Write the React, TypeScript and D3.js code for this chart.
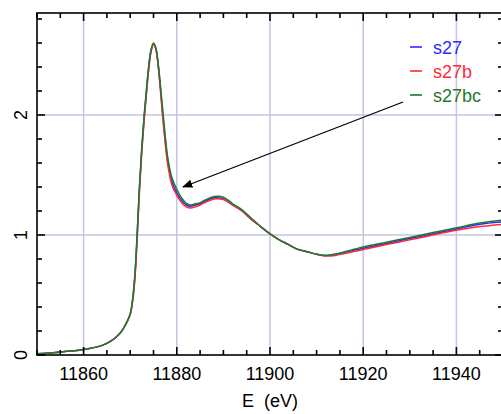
import React from "react";
import * as d3 from "d3";

const energy = [11850, 11852, 11854, 11856, 11858, 11860, 11862, 11864, 11866, 11867, 11868, 11869, 11870, 11870.5, 11871, 11871.5, 11872, 11872.5, 11873, 11873.5, 11874, 11874.5, 11875, 11875.5, 11876, 11876.5, 11877, 11877.5, 11878, 11878.5, 11879, 11880, 11881, 11882, 11883, 11884, 11885, 11886, 11888, 11890, 11892, 11894, 11896, 11898, 11900, 11902, 11904, 11906, 11908, 11910, 11912, 11914, 11916, 11920, 11925, 11930, 11935, 11940, 11945, 11950];

const s27 = [0.01, 0.015, 0.02, 0.03, 0.035, 0.045, 0.06, 0.08, 0.12, 0.15, 0.19, 0.25, 0.34, 0.45, 0.65, 1.0, 1.4, 1.72, 1.98, 2.2, 2.4, 2.54, 2.59, 2.55, 2.42, 2.22, 2.0, 1.8, 1.63, 1.52, 1.44, 1.35, 1.29, 1.25, 1.24, 1.25, 1.26, 1.28, 1.31, 1.3, 1.25, 1.2, 1.13, 1.07, 1.01, 0.96, 0.92, 0.88, 0.86, 0.84, 0.83, 0.84, 0.855, 0.89, 0.93, 0.97, 1.01, 1.05, 1.09, 1.11];
const s27b = [0.01, 0.015, 0.02, 0.03, 0.035, 0.045, 0.06, 0.08, 0.12, 0.15, 0.19, 0.25, 0.335, 0.44, 0.63, 0.97, 1.37, 1.7, 1.96, 2.18, 2.39, 2.53, 2.59, 2.55, 2.41, 2.2, 1.97, 1.77, 1.6, 1.49, 1.41, 1.33, 1.27, 1.235, 1.225, 1.235, 1.25, 1.27, 1.3, 1.295, 1.25, 1.2, 1.13, 1.07, 1.01, 0.96, 0.92, 0.88, 0.86, 0.84, 0.825, 0.83, 0.845, 0.88, 0.92, 0.96, 1.0, 1.04, 1.07, 1.09];
const s27bc = [0.01, 0.015, 0.02, 0.03, 0.035, 0.045, 0.06, 0.08, 0.12, 0.15, 0.19, 0.255, 0.345, 0.46, 0.67, 1.02, 1.42, 1.74, 2.0, 2.22, 2.42, 2.55, 2.6, 2.56, 2.43, 2.24, 2.03, 1.83, 1.66, 1.55, 1.47, 1.38, 1.31, 1.265, 1.25, 1.26, 1.27, 1.29, 1.32, 1.315, 1.26, 1.21, 1.14, 1.07, 1.01, 0.96, 0.92, 0.88, 0.86, 0.84, 0.83, 0.84, 0.86, 0.9, 0.94, 0.98, 1.02, 1.06, 1.1, 1.125];

const seriesNames = ["s27", "s27b", "s27bc"];
const seriesColors = ["#2a2aff", "#ff2a3a", "#1f7a2a"];
const xTicks = [11860, 11880, 11900, 11920, 11940];
const yTicks = [0, 1, 2];

const W = 501;
const H = 414;
const left = 37, right = 503, top = 13, bottom = 355;
const FONT = "'Liberation Sans', Arial, sans-serif";

export default function App() {
  const x = d3.scaleLinear().domain([11850, 11950]).range([left, right]);
  const y = d3.scaleLinear().domain([0, 2.85]).range([bottom, top]);

  const series = [s27, s27b, s27bc];
  const line = (vals: number[]) =>
    d3.line<number>().x((_, i) => x(energy[i])).y((d) => y(d)).curve(d3.curveCatmullRom)(vals) || "";

  const xMinor = d3.range(11850, 11951, 5);
  const yMinor = d3.range(0, 2.85, 0.2);

  return (
    <svg width={W} height={H} style={{ position: "absolute", left: 0, top: 0 }} fontFamily={FONT}>
      <defs>
        <clipPath id="plot">
          <rect x={left} y={top} width={right - left} height={bottom - top} />
        </clipPath>
        <marker id="arrow" viewBox="0 0 10 10" refX="9" refY="5" markerWidth="8" markerHeight="8" orient="auto">
          <path d="M0,1 L10,5 L0,9 z" fill="#000" />
        </marker>
      </defs>
      <rect x={0} y={0} width={W} height={H} fill="#fff" />
      {/* grid */}
      {xTicks.map((t) => (
        <line key={"gx" + t} x1={x(t)} x2={x(t)} y1={top} y2={bottom} stroke="#c9c3e3" strokeWidth={1.5} />
      ))}
      {yTicks.slice(1).map((t) => (
        <line key={"gy" + t} x1={left} x2={right} y1={y(t)} y2={y(t)} stroke="#c9c3e3" strokeWidth={1.5} />
      ))}
      {/* curves */}
      <g clipPath="url(#plot)">
        {series.map((s, i) => (
          <path key={seriesNames[i]} d={line(s)} fill="none" stroke={seriesColors[i]} strokeWidth={1.5} />
        ))}
      </g>
      {/* frame */}
      <rect x={left} y={top} width={right - left} height={bottom - top} fill="none" stroke="#000" strokeWidth={1.6} />
      {xMinor.map((t) => {
        const major = xTicks.includes(t);
        const len = major ? 8 : 5;
        return (
          <g key={"tx" + t}>
            <line x1={x(t)} x2={x(t)} y1={top} y2={top + len} stroke="#000" strokeWidth={1.6} />
            <line x1={x(t)} x2={x(t)} y1={bottom} y2={bottom - len} stroke="#000" strokeWidth={1.6} />
          </g>
        );
      })}
      {yMinor.map((t) => {
        const major = Math.abs(t - Math.round(t)) < 1e-6;
        const len = major ? 8 : 5;
        return (
          <g key={"ty" + t}>
            <line x1={left} x2={left + len} y1={y(t)} y2={y(t)} stroke="#000" strokeWidth={1.6} />
            <line x1={right} x2={right - len} y1={y(t)} y2={y(t)} stroke="#000" strokeWidth={1.6} />
          </g>
        );
      })}
      {/* tick labels */}
      {xTicks.map((t) => (
        <text key={"lx" + t} x={x(t)} y={380} textAnchor="middle" fontSize={18}>
          {t}
        </text>
      ))}
      {yTicks.map((t) => (
        <text key={"ly" + t} transform={`translate(27,${y(t)}) rotate(-90)`} textAnchor="middle" fontSize={18}>
          {t}
        </text>
      ))}
      <text x={270} y={407} textAnchor="middle" fontSize={18} xmlSpace="preserve">E  (eV)</text>
      {/* legend */}
      {seriesNames.map((n, i) => (
        <g key={"lg" + n}>
          <line x1={410} x2={422} y1={47 + i * 24} y2={47 + i * 24} stroke={seriesColors[i]} strokeWidth={1.6} />
          <text x={433} y={54 + i * 24} fontSize={18} fill={seriesColors[i]}>{n}</text>
        </g>
      ))}
      {/* annotation arrow */}
      <line x1={403} x2={183} y1={102} y2={187} stroke="#000" strokeWidth={1.3} markerEnd="url(#arrow)" />
    </svg>
  );
}
